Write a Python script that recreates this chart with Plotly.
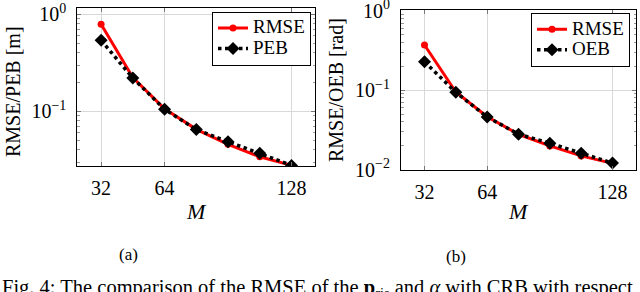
import plotly.graph_objects as go

# ---- data ----
M = [32, 48, 64, 80, 96, 112, 128]
rmse_pos = [0.789, 0.223, 0.106, 0.0652, 0.0457, 0.034, 0.0277]
peb = [0.539, 0.22, 0.105, 0.0648, 0.0486, 0.0369, 0.0277]
rmse_ori = [0.37, 0.095, 0.0464, 0.0279, 0.0199, 0.0149, 0.012]
oeb = [0.228, 0.094, 0.046, 0.028, 0.0215, 0.0161, 0.0121]
x_ticks = [32, 64, 128]
y_ticks = [0.01, 0.1, 1]
y_ticktext = ["10<sup>−2</sup>", "10<sup>−1</sup>", "10<sup>0</sup>"]

FONT = "Liberation Serif"
W, H = 640, 292

fig = go.Figure()

red = dict(color="#ff0000", width=3)
blk = dict(color="#000000", width=3.5, dash="dot")

def lg(name):
    return '<span style="font-size:19px">' + name + '</span>'

fig.add_trace(go.Scatter(x=M, y=rmse_pos, mode="lines+markers", name=lg("RMSE"),
                         line=red, marker=dict(symbol="circle", size=7, color="#ff0000"),
                         xaxis="x", yaxis="y", legend="legend"))
fig.add_trace(go.Scatter(x=M, y=peb, mode="lines+markers", name=lg("PEB"),
                         line=blk, marker=dict(symbol="diamond", size=10, color="#000000"),
                         xaxis="x", yaxis="y", legend="legend"))
fig.add_trace(go.Scatter(x=M, y=rmse_ori, mode="lines+markers", name=lg("RMSE"),
                         line=red, marker=dict(symbol="circle", size=7, color="#ff0000"),
                         xaxis="x2", yaxis="y2", legend="legend2"))
fig.add_trace(go.Scatter(x=M, y=oeb, mode="lines+markers", name=lg("OEB"),
                         line=blk, marker=dict(symbol="diamond", size=10, color="#000000"),
                         xaxis="x2", yaxis="y2", legend="legend2"))

def px_x(p):
    return p / W

def px_y(p):
    return 1 - p / H

tickfont = dict(family=FONT, size=20, color="black")

common_x = dict(
    range=[20, 140], tickvals=x_ticks, showgrid=True, gridcolor="#d9d9d9", gridwidth=1,
    showline=True, linecolor="black", linewidth=1, mirror="ticks",
    ticks="inside", ticklen=4, tickcolor="#777", tickfont=tickfont, zeroline=False,
    ticklabelstandoff=4, automargin=False, ticklabeloverflow="allow",
)
common_y = dict(
    type="log", tickvals=y_ticks, ticktext=y_ticktext, showgrid=True, gridcolor="#d9d9d9",
    gridwidth=1, showline=True, linecolor="black", linewidth=1, mirror="ticks",
    ticks="inside", ticklen=4, tickcolor="#777", tickfont=tickfont, zeroline=False,
    minor=dict(ticks="inside", ticklen=2.5, tickcolor="#999", dtick="D1", showgrid=False),
    ticklabelstandoff=6, automargin=False, ticklabeloverflow="allow",
)

legend_common = dict(xanchor="right", yanchor="top", bgcolor="white", bordercolor="black",
                     borderwidth=1, font=dict(family=FONT, size=13.5), tracegroupgap=0,
                     itemwidth=30)

fig.update_layout(
    width=W, height=H, margin=dict(l=0, r=0, t=0, b=0, autoexpand=False),
    paper_bgcolor="white", plot_bgcolor="white",
    font=dict(family=FONT, color="black"),
    xaxis=dict(domain=[px_x(77.3), px_x(315.3)], anchor="y", **common_x),
    yaxis=dict(domain=[px_y(166.3), px_y(7.5)], anchor="x", range=[-1.567, 0.070], **common_y),
    xaxis2=dict(domain=[px_x(401), px_x(636)], anchor="y2", **common_x),
    yaxis2=dict(domain=[px_y(170), px_y(10.4)], anchor="x2", range=[-2.004, 0.004], **common_y),
    legend=dict(x=px_x(311), y=px_y(11.7), **legend_common),
    legend2=dict(x=px_x(630), y=px_y(13), **legend_common),
    showlegend=True,
)

def label(text, x, y, size, angle=0, xanchor="center", yanchor="middle"):
    return dict(text=text, x=px_x(x), y=px_y(y), xref="paper", yref="paper",
                xanchor=xanchor, yanchor=yanchor, showarrow=False, textangle=angle,
                font=dict(family=FONT, size=size))

ann = [
    label("RMSE/PEB [m]", 13, 92, 20, angle=-90),
    label("RMSE/OEB [rad]", 336, 90, 20, angle=-90),
    label("<i>M</i>", 196, 211, 22),
    label("<i>M</i>", 518, 211, 22),
    label("(a)", 128, 254, 17),
    label("(b)", 456, 256, 17),
    label("Fig. 4: The comparison of the RMSE of the <b>p</b><sub>ris</sub> and <i>α</i> with CRB with respect",
          0, 274, 20.5, xanchor="left", yanchor="top"),
]
fig.update_layout(annotations=ann)

fig.write_html("out.html", config={"displayModeBar": False},
               post_script="document.body.style.margin='0';document.body.style.overflow='hidden';")
